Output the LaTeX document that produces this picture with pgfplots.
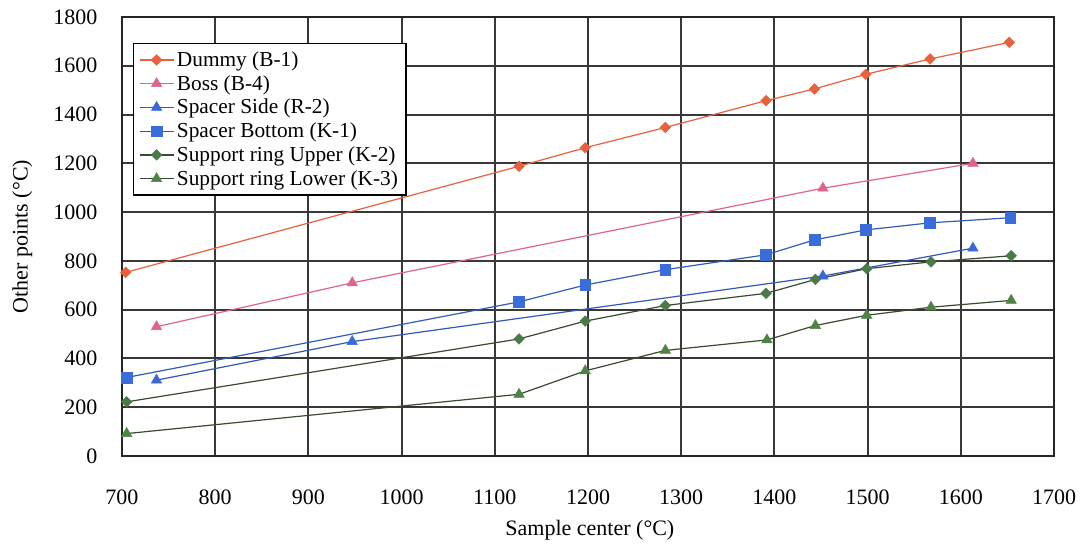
\documentclass[border=0pt]{standalone}
\usepackage{pgfplots}
\pgfplotsset{compat=1.18}
\usepackage{fontspec}
\setmainfont{Liberation Serif}
\definecolor{cDum}{HTML}{E8603C}
\definecolor{cBoss}{HTML}{E0648A}
\definecolor{cSide}{HTML}{3A68D8}
\definecolor{cBot}{HTML}{3A6CDA}
\definecolor{cUpL}{HTML}{3A4A30}
\definecolor{cUpM}{HTML}{4A7A48}
\definecolor{cLoL}{HTML}{3A4A30}
\definecolor{cLoM}{HTML}{4E8442}
\begin{document}
\begin{tikzpicture}
\useasboundingbox (-91.5pt,-67.5pt) rectangle (719.25pt,342pt);
\begin{axis}[
  scale only axis,
  width=699pt, height=329.25pt,
  xmin=700, xmax=1700, ymin=0, ymax=1800,
  xtick={700,800,...,1700}, ytick={0,200,...,1800},
  grid=major,
  major grid style={line width=1.5pt, black!78},
  axis line style={line width=1.7pt, black!85},
  major tick length=0pt,
  tick label style={font=\fontsize{16.5}{19}\selectfont},
  xticklabel style={anchor=center, yshift=-30.75pt},
  yticklabel style={anchor=east, xshift=-15pt},
  scaled ticks=false,
  /pgf/number format/assume math mode=true,
  /pgf/number format/set thousands separator={},
  xlabel={Sample center (°C)},
  ylabel={Other points (°C)},
  label style={font=\fontsize{16.5}{19}\selectfont},
  x label style={at={(axis description cs:0.502,-0.1686)}, anchor=center},
  y label style={at={(axis description cs:-0.107,0.5)}, anchor=center},
  legend style={at={(rel axis cs:0.0118,0.9408)}, anchor=north west,
    font=\fontsize{16}{19}\selectfont, draw=black, line width=0.9pt,
    fill=white, inner sep=4pt, row sep=1.2pt},
  legend cell align=left,
  legend image code/.code={\draw[mark repeat=2,mark phase=2] plot coordinates {(0cm,0cm) (0.45cm,0cm) (0.9cm,0cm)};},
]
\addplot[cDum, line width=0.9pt, mark=square*, mark size=2.8pt, mark options={rotate=45, fill=cDum, draw=cDum, line width=0.4pt}]
  coordinates {(704,753) (1126,1188) (1197,1264) (1283,1347) (1391,1457) (1443,1505) (1498,1565) (1567,1628) (1652,1696)};
\addlegendentry{Dummy (B-1)}
\addplot[cBoss, line width=0.9pt, mark=triangle*, mark size=4.5pt, mark options={fill=cBoss, draw=cBoss, line width=0.4pt}]
  coordinates {(737,530) (947,710) (1452,1098) (1613,1200)};
\addlegendentry{Boss (B-4)}
\addplot[cSide!85!black, line width=0.9pt, mark=triangle*, mark size=4.5pt, mark options={fill=cSide, draw=cSide, line width=0.4pt}]
  coordinates {(737,311) (947,469) (1452,738) (1613,852)};
\addlegendentry{Spacer Side (R-2)}
\addplot[cBot!85!black, line width=0.9pt, mark=square*, mark size=4pt, mark options={fill=cBot, draw=cBot, line width=0.4pt}]
  coordinates {(705,322) (1126,632) (1197,701) (1283,764) (1391,825) (1443,886) (1498,927) (1567,956) (1653,977)};
\addlegendentry{Spacer Bottom (K-1)}
\addplot[cUpL, line width=0.9pt, mark=square*, mark size=2.8pt, mark options={rotate=45, fill=cUpM, draw=cUpM, line width=0.4pt}]
  coordinates {(705,222) (1126,480) (1197,553) (1283,617) (1391,667) (1444,724) (1499,768) (1568,796) (1654,821)};
\addlegendentry{Support ring Upper (K-2)}
\addplot[cLoL, line width=0.9pt, mark=triangle*, mark size=4.5pt, mark options={fill=cLoM, draw=cLoM, line width=0.4pt}]
  coordinates {(705,92) (1126,253) (1197,349) (1283,433) (1392,476) (1444,535) (1499,577) (1568,610) (1654,638)};
\addlegendentry{Support ring Lower (K-3)}
\end{axis}
\end{tikzpicture}
\end{document}
